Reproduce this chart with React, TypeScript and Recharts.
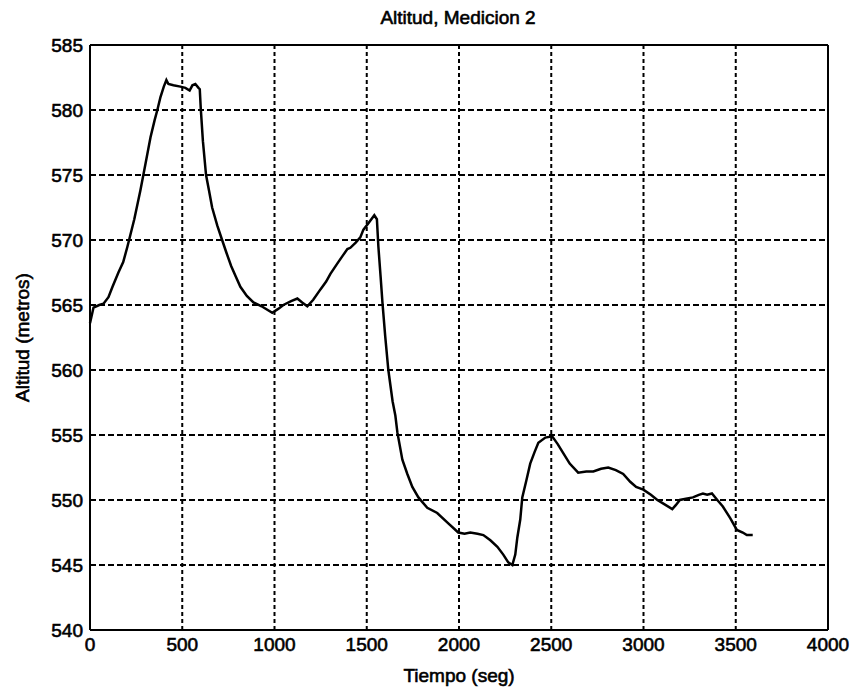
import { CartesianGrid, Line, LineChart, ReferenceLine, XAxis, YAxis } from "recharts";

// tiempo (seg) y altitud (metros)
const tiempo = [
  0, 19, 50, 73, 100, 122, 154, 180, 203, 240, 273, 300, 328, 350, 365, 382, 400, 414, 425, 452,
  490, 517, 540, 555, 571, 588, 595, 600, 612, 629, 645, 662, 690, 716, 740, 765, 790, 815, 850, 886, 930,
  988, 1020, 1048, 1090, 1124, 1150, 1178, 1210, 1249, 1280, 1303, 1341, 1370, 1395, 1411, 1440, 1465,
  1482, 1510, 1541, 1555, 1563, 1575, 1585, 1600, 1617, 1640, 1655, 1666, 1693, 1720, 1747, 1780, 1828,
  1882, 1942, 1996, 2030, 2061, 2100, 2132, 2170, 2208, 2240, 2267, 2289, 2305, 2316, 2332, 2343, 2365,
  2386, 2410, 2430, 2468, 2505, 2535, 2565, 2600, 2646, 2690, 2728, 2770, 2809, 2850, 2890, 2928, 2960,
  2999, 3040, 3075, 3110, 3156, 3175, 3197, 3230, 3268, 3300, 3322, 3345, 3371, 3400, 3430, 3470, 3506,
  3538, 3560, 3592,
];

const altitud = [
  563.6, 564.8, 565.0, 565.1, 565.6, 566.4, 567.5, 568.3, 569.5, 571.6, 573.8, 575.8, 577.9, 579.2, 580.0,
  581.0, 581.8, 582.3, 582.0, 581.9, 581.8, 581.7, 581.5, 581.9, 582.0, 581.7, 581.6, 580.2, 577.6, 575.0,
  573.8, 572.5, 571.1, 570.0, 569.0, 568.0, 567.2, 566.4, 565.7, 565.2, 564.9, 564.4, 564.7, 565.0, 565.3, 565.5,
  565.2, 564.9, 565.4, 566.2, 566.8, 567.4, 568.2, 568.8, 569.3, 569.4, 569.8, 570.2, 570.8, 571.3, 571.9,
  571.6, 569.5, 567.2, 565.2, 562.6, 560.0, 557.6, 556.5, 555.2, 553.1, 552.0, 551.0, 550.2, 549.4, 549.0,
  548.2, 547.5, 547.4, 547.5, 547.4, 547.3, 546.9, 546.4, 545.8, 545.2, 545.0, 545.8, 547.1, 548.5, 550.2,
  551.5, 552.8, 553.7, 554.4, 554.8, 554.9, 554.3, 553.6, 552.8, 552.1, 552.2, 552.2, 552.4, 552.5, 552.3,
  552.0, 551.4, 551.0, 550.8, 550.4, 550.0, 549.7, 549.3, 549.6, 550.0, 550.1, 550.2, 550.4, 550.5, 550.4,
  550.5, 550.0, 549.5, 548.6, 547.7, 547.5, 547.3, 547.3,
];

const xTicks = [0, 500, 1000, 1500, 2000, 2500, 3000, 3500, 4000];
const yTicks = [540, 545, 550, 555, 560, 565, 570, 575, 580, 585];

const data = tiempo.map((t, i) => ({ t, alt: altitud[i] }));

const FONT = "'Liberation Sans', Arial, sans-serif";
const tickStyle = { fill: "#000", stroke: "#000", strokeWidth: 0.6, fontSize: 19, fontFamily: FONT };

export default function App() {
  return (
    <div style={{ position: "absolute", left: 0, top: 0, width: 857, height: 692, background: "#fff" }}>
      <LineChart width={857} height={692} data={data} margin={{ top: 45, right: 29, bottom: 32, left: 40 }}>
        <CartesianGrid vertical={false} stroke="#000" strokeWidth={2} strokeDasharray="6 3" />
        <CartesianGrid horizontal={false} stroke="#000" strokeWidth={2} strokeDasharray="4 3" />
        <XAxis
          dataKey="t"
          type="number"
          domain={[0, 4000]}
          ticks={xTicks}
          interval={0}
          tick={tickStyle}
          tickLine={false}
          tickSize={0}
          tickMargin={8}
          axisLine={{ stroke: "#000", strokeWidth: 2 }}
          height={30}
          label={{ value: "Tiempo (seg)", position: "insideBottom", offset: -22, style: tickStyle }}
        />
        <YAxis
          type="number"
          domain={[540, 585]}
          ticks={yTicks}
          interval={0}
          tick={tickStyle}
          tickLine={false}
          tickSize={0}
          tickMargin={7}
          axisLine={{ stroke: "#000", strokeWidth: 2 }}
          width={50}
          label={{
            value: "Altitud (metros)",
            angle: -90,
            position: "insideLeft",
            offset: -18,
            style: { ...tickStyle, textAnchor: "middle" },
          }}
        />
        <ReferenceLine y={585} stroke="#000" strokeWidth={2} />
        <ReferenceLine x={4000} stroke="#000" strokeWidth={2} />
        <Line
          type="linear"
          dataKey="alt"
          stroke="#000"
          strokeWidth={2.5}
          dot={false}
          isAnimationActive={false}
        />
        <text
          x={458}
          y={24}
          textAnchor="middle"
          style={{ fontFamily: FONT, fontSize: 19, fill: "#000", stroke: "#000", strokeWidth: 0.6 }}
        >
          Altitud, Medicion 2
        </text>
      </LineChart>
    </div>
  );
}
